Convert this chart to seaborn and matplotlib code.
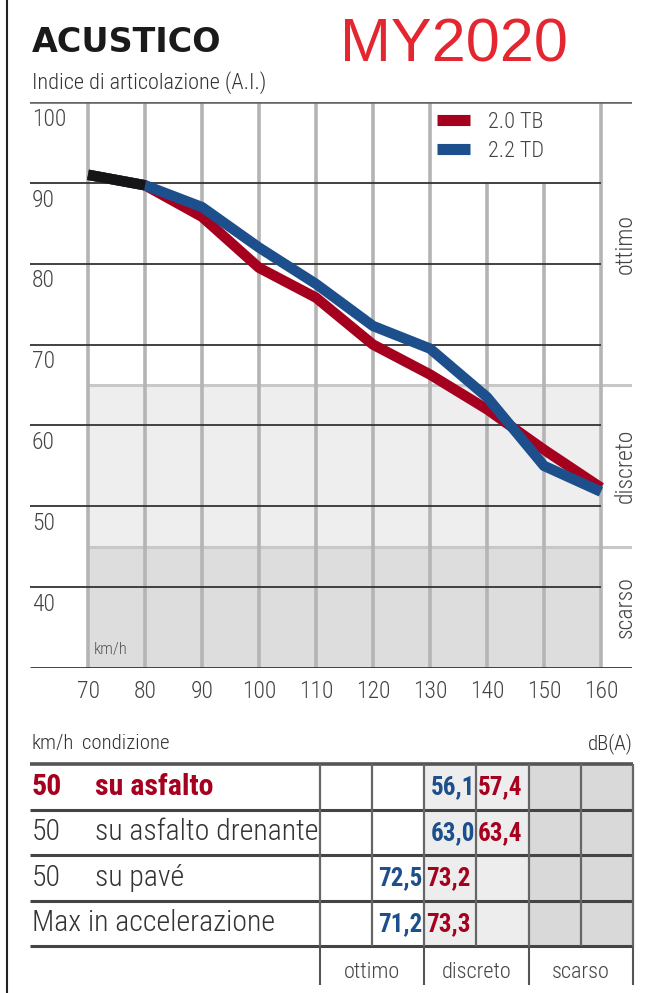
import numpy as np
import pandas as pd
import seaborn as sns
import matplotlib.pyplot as plt
from matplotlib import font_manager
from matplotlib.lines import Line2D
from matplotlib.colors import ListedColormap

# dati
speed = [70, 80, 90, 100, 110, 120, 130, 140, 150, 160]
ai_20tb = [91.0, 89.7, 85.8, 79.5, 75.8, 70.0, 66.3, 62.0, 57.0, 52.3]
ai_22td = [91.0, 89.7, 87.0, 82.0, 77.5, 72.3, 69.5, 63.5, 55.0, 51.8]
series_names = ['2.0 TB', '2.2 TD']
y_ticks = [100, 90, 80, 70, 60, 50, 40]
bands = ['ottimo', 'discreto', 'scarso']
band_edges = [100, 65, 45, 30]

row_speed = ['50', '50', '50', '']
row_cond = ['su asfalto', 'su asfalto drenante', 'su pavé', 'Max in accelerazione']
db_22td = ['56,1', '63,0', '72,5', '71,2']
db_20tb = ['57,4', '63,4', '73,2', '73,3']
db_col = [2, 2, 1, 1]  # colonna del valore 2.2 TD

RED = '#a6001f'
BLUE = '#1d4f8c'
TXT = '#444444'

sns.set_theme(style='white')
names = {f.name for f in font_manager.fontManager.ttflist}
cond = next((n for n in ['Liberation Sans Narrow', 'Roboto Condensed', 'Open Sans Condensed']
             if n in names), 'DejaVu Sans')
plt.rcParams['font.family'] = [cond, 'DejaVu Sans']
plt.rcParams['font.weight'] = 'light'

W, H = 649, 993
fig = plt.figure(figsize=(W / 100, H / 100), dpi=100)


def px_axes(l, t, r, b):
    return fig.add_axes([l / W, 1 - b / H, (r - l) / W, (b - t) / H])


# grafico
ax = px_axes(30, 102, 632, 668)
x0, x1 = 59.82, 165.44
ax.set_xlim(x0, x1)
ax.set_ylim(30, 100)
for s in ax.spines.values():
    s.set_visible(False)

shades = ['white', '#eeeeee', '#dddddd']
for i in range(3):
    ax.fill_between([speed[0], speed[-1]], band_edges[i + 1], band_edges[i],
                    color=shades[i], lw=0, zorder=0)
for e in band_edges[1:-1]:
    ax.hlines(e, speed[0], x1, color='#c8c8c8', lw=2.2, zorder=1)

for x in speed:
    top = 90 if 130 < x < 160 else 100
    ax.vlines(x, 30, top, color='#b4b4b4', lw=2.6, zorder=1)
for y in y_ticks[1:]:
    ax.hlines(y, x0, speed[-1], color='#333333', lw=1.3, zorder=2)
ax.hlines(100, x0, x1, color='#666666', lw=2.6, zorder=2)
ax.hlines(30, x0, x1, color='#333333', lw=2.0, zorder=2)

for y in y_ticks:
    ax.text(x0 + 0.35, y - 0.7, str(y), ha='left', va='top', fontsize=17, color=TXT)

df = pd.DataFrame({
    'kmh': speed * 2,
    'ai': ai_20tb + ai_22td,
    'motore': [series_names[0]] * len(speed) + [series_names[1]] * len(speed),
})
sns.lineplot(data=df, x='kmh', y='ai', hue='motore', palette=[RED, BLUE],
             lw=7.5, legend=False, sort=False, estimator=None, ax=ax)
a, b = np.array(ai_20tb), np.array(ai_22td)
same = np.isclose(a, b, atol=0.3)
for i in range(len(speed) - 1):
    if same[i] and same[i + 1]:
        ax.plot(speed[i:i + 2], a[i:i + 2], color='#151515', lw=7.5)
for ln in ax.lines:
    ln.set_solid_capstyle('butt')
    ln.set_zorder(5)

ax.set_xticks(speed, [str(s) for s in speed])
ax.set_yticks([])
ax.tick_params(axis='x', length=0, pad=9, labelsize=17, colors=TXT)
ax.set_xlabel('')
ax.set_ylabel('')
ax.text(71, 31.3, 'km/h', fontsize=12, color='#555555', va='bottom', ha='left')

for i, name in enumerate(bands):
    ax.text(164.2, (band_edges[i] + band_edges[i + 1]) / 2, name, rotation=90,
            ha='center', va='center', fontsize=17, color=TXT)

handles = [Line2D([], [], color=c, lw=8, solid_capstyle='butt') for c in (RED, BLUE)]
leg = ax.legend(handles, series_names, loc='upper left', frameon=False,
                bbox_to_anchor=(437 / W, 1 - 112 / H), bbox_transform=fig.transFigure,
                fontsize=16, handlelength=1.5, handletextpad=0.8, labelspacing=0.35,
                borderpad=0, borderaxespad=0)
for t in leg.get_texts():
    t.set_color(TXT)

# titoli
fig.text(32 / W, 1 - 52 / H, 'ACUSTICO', fontsize=24, fontweight='bold',
         family=['DejaVu Sans'], color='#1a1a1a', va='baseline')
fig.text(340 / W, 1 - 62 / H, 'MY2020', fontsize=44, color='#e3262f', fontweight='normal',
         family=['Liberation Sans', 'DejaVu Sans'], va='baseline')
fig.text(32 / W, 1 - 89 / H, 'Indice di articolazione (A.I.)', fontsize=16,
         color='#333333', va='baseline')

# tabella
tax = px_axes(30, 764, 633, 946)
shade = np.array([[0, 0, 1, 1, 2, 2]] * len(row_cond))
sns.heatmap(shade, cmap=ListedColormap(['white', '#ededed', '#d9d9d9']), vmin=0, vmax=2,
            cbar=False, linewidths=0, ax=tax)
tx0 = (30 - 320) / 52.2
tax.set_xlim(tx0, 6)
tax.set_ylim(4, 0)
tax.axis('off')

for r in range(len(row_cond) + 1):
    tax.hlines(r, tx0, 6, color='#444444' if r else '#555555', lw=2.2 if r else 2.6,
               clip_on=False)
for c in range(7):
    tax.vlines(c, 0, 4, color='#666666', lw=1.6, clip_on=False)
for c in [0, 2, 4, 6]:
    tax.vlines(c, 4, 4.85, color='#555555', lw=1.5, clip_on=False)
for i, name in enumerate(bands):
    tax.text(2 * i + 1, 4.58, name, ha='center', va='center', fontsize=16, color=TXT,
             clip_on=False)

xs, xc = (32 - 320) / 52.2, (95 - 320) / 52.2
for r in range(len(row_cond)):
    first = r == 0
    kw = dict(va='center', ha='left', fontsize=21.5, clip_on=False,
              color=RED if first else '#333333', fontweight='bold' if first else 'light')
    if row_speed[r]:
        tax.text(xs, r + 0.5, row_speed[r], **kw)
        tax.text(xc, r + 0.5, row_cond[r], **kw)
    else:
        tax.text(xs, r + 0.5, row_cond[r], **kw)
    edge = db_col[r] + 1
    tax.text(edge - 0.03, r + 0.52, db_22td[r], ha='right', va='center', fontsize=18,
             fontweight='bold', color=BLUE)
    tax.text(edge + 0.03, r + 0.52, db_20tb[r], ha='left', va='center', fontsize=18,
             fontweight='bold', color=RED)

tax.text(xs, -0.44, 'km/h', ha='left', va='center', fontsize=15, color='#333333',
         clip_on=False)
tax.text((82 - 320) / 52.2, -0.44, 'condizione', ha='left', va='center', fontsize=15,
         color='#333333', clip_on=False)
tax.text(6, -0.44, 'dB(A)', ha='right', va='center', fontsize=15, color='#333333',
         clip_on=False)

fig.add_artist(Line2D([7 / W, 7 / W], [0, 1], color='#222222', lw=1.5,
                      transform=fig.transFigure))

fig.savefig('out.png', dpi=100)
